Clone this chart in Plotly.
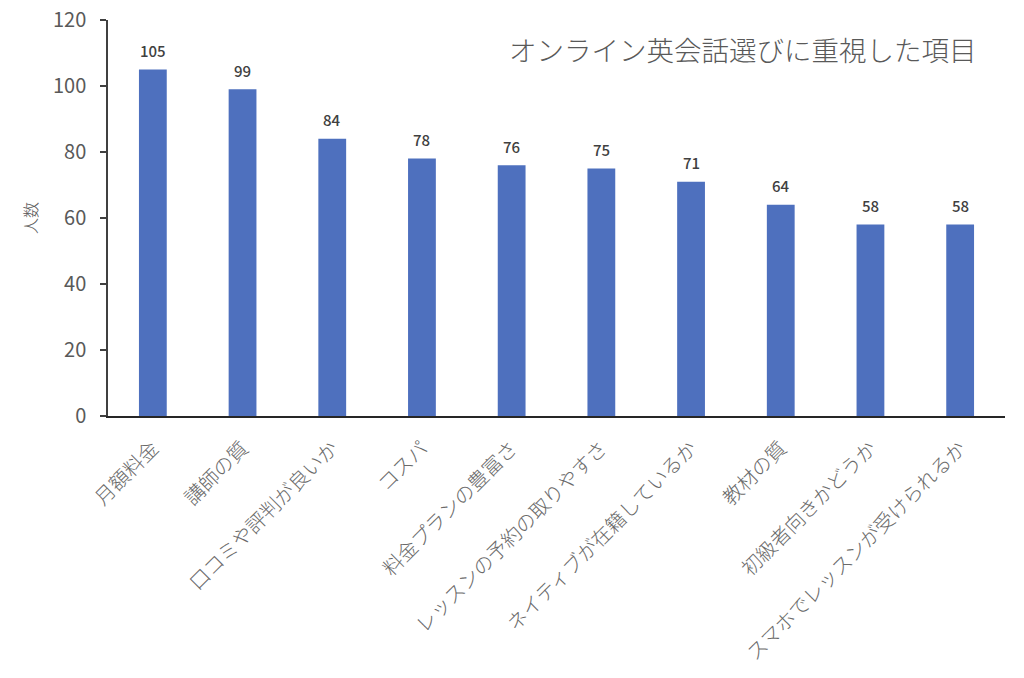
import plotly.graph_objects as go

categories = ["月額料金", "講師の質", "口コミや評判が良いか", "コスパ", "料金プランの豊富さ",
              "レッスンの予約の取りやすさ", "ネイティブが在籍しているか", "教材の質",
              "初級者向きかどうか", "スマホでレッスンが受けられるか"]
values = [105, 99, 84, 78, 76, 75, 71, 64, 58, 58]
y_ticks = [0, 20, 40, 60, 80, 100, 120]
title_text = "オンライン英会話選びに重視した項目"
y_title = "人数"

FONT = "Noto Sans CJK JP"

fig = go.Figure(go.Bar(
    x=categories, y=values,
    marker=dict(color="#4E70BE", line=dict(width=0)),
))

for c, v in zip(categories, values):
    fig.add_annotation(x=c, y=v, text=str(v), showarrow=False,
                       yanchor="middle", yshift=19,
                       font=dict(family=FONT, size=15, color="#404040", weight=500))

fig.add_annotation(text=y_title, xref="paper", yref="paper", x=0, y=0.5,
                   xshift=-78, xanchor="center", yanchor="middle", textangle=-90,
                   showarrow=False,
                   font=dict(size=16, color="#595959", family=FONT, weight=300))

fig.add_annotation(text=title_text, xref="paper", yref="paper", x=0.9705, y=0.928,
                   xanchor="right", yanchor="middle", showarrow=False,
                   font=dict(size=27.5, color="#595959", family=FONT, weight=300))

fig.update_layout(
    width=1024, height=678,
    margin=dict(l=108, r=19, t=20, b=262, autoexpand=False),
    paper_bgcolor="white", plot_bgcolor="white",
    bargap=0.69,
    showlegend=False,
    font=dict(family=FONT, color="#595959"),
    xaxis=dict(
        tickangle=-45, tickfont=dict(size=20, color="#6a6a6a", family=FONT, weight=300),
        showline=True, linecolor="#262626", linewidth=1.5,
        ticks="", showgrid=False, automargin=False, ticklabelstandoff=11,
    ),
    yaxis=dict(
        range=[0, 120], tickvals=y_ticks,
        tickfont=dict(size=20, color="#595959", family=FONT),
        showline=True, linecolor="#404040", linewidth=1.5,
        ticks="outside", ticklen=6, tickcolor="#404040", tickwidth=1.5,
        showgrid=False, zeroline=False, automargin=False, ticklabelstandoff=10,
    ),
)

fig.write_html("out.html")
